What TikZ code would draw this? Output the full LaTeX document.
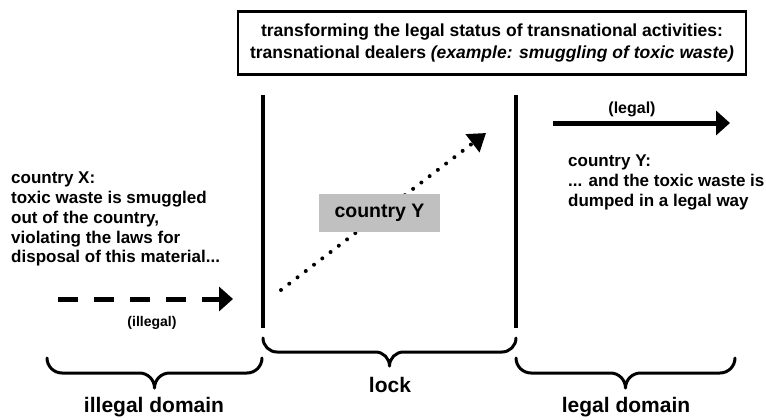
\documentclass[tikz,border=0pt]{standalone}
\usepackage{fontspec}
\setmainfont{Liberation Sans}
\usepackage{xcolor}
\usetikzlibrary{arrows.meta}
\definecolor{boxgray}{RGB}{192,192,192}

\begin{document}
\begin{tikzpicture}[x=1pt, y=-1pt,
    txt/.style={font=\bfseries\fontsize{17}{19.75}\selectfont, align=left, inner sep=0pt},
    dom/.style={font=\bfseries\fontsize{21}{24}\selectfont, inner sep=0pt},
    wall/.style={line width=4.5pt},
    flow/.style={line width=5pt, -{Triangle[length=14pt, width=24pt]}},
    curly/.style={line width=3pt, line cap=round, line join=round}]
    \useasboundingbox (0,0) rectangle (766,420);

    % title
    \node[draw, line width=2.5pt, minimum width=508pt, minimum height=63pt,
      align=center, font=\bfseries\fontsize{17.5}{22}\selectfont] (title) at (492,43)
      {transforming the legal status of transnational activities:\\
       transnational dealers {\itshape (example: smuggling of toxic waste)}};

    % the lock
    \coordinate (lockLtop) at (263,95);
    \coordinate (lockLbot) at (263,328);
    \coordinate (lockRtop) at (516,95);
    \coordinate (lockRbot) at (516,328);
    \draw[wall] (lockLtop) -- (lockLbot);
    \draw[wall] (lockRtop) -- (lockRbot);

    % country X
    \node[txt, anchor=north west] (txtX) at (11,172)
      {country X:\\toxic waste is smuggled\\out of the country,\\
       violating the laws for\\disposal of this material...};
    \coordinate (illA) at (58,299);
    \coordinate (illB) at (233,299);
    \draw[flow, dash pattern=on 20pt off 16pt] (illA) -- (illB);
    \node[inner sep=0pt, font=\bfseries\fontsize{14}{16}\selectfont] (lblIllegal) at (152,323) {(illegal)};

    % country Y inside the lock
    \coordinate (lockA) at (281,290);
    \coordinate (lockB) at (486,133);
    \draw[line width=4pt, line cap=round, dash pattern=on 0pt off 10.4pt,
      -{Triangle[length=17pt, width=22pt]}] (lockA) -- (lockB);
    \node[fill=boxgray, minimum width=121pt, minimum height=38pt, inner sep=0pt,
      font=\bfseries\fontsize{19.5}{22}\selectfont] (boxY) at (379.5,213) {country Y};

    % country Y
    \coordinate (legA) at (553,123);
    \coordinate (legB) at (730,123);
    \draw[flow] (legA) -- (legB);
    \node[inner sep=0pt, font=\bfseries\fontsize{16}{18}\selectfont] (lblLegal) at (632,109) {(legal)};
    \node[txt, anchor=north west] (txtY) at (568,155)
      {country Y:\\... and the toxic waste is\\dumped in a legal way};

    % braces
    \foreach \xa/\xb/\yt/\r in {47/262/358/15, 263/516/338/14, 516/735/358/15}{
      \pgfmathsetmacro\xm{(\xa+\xb)/2}
      \draw[curly] (\xa,\yt) .. controls (\xa,\yt+0.55*\r) and (\xa+0.45*\r,\yt+\r) .. (\xa+\r,\yt+\r)
        -- (\xm-\r,\yt+\r) .. controls (\xm-0.45*\r,\yt+\r) and (\xm,\yt+1.45*\r) .. (\xm,\yt+2*\r)
        .. controls (\xm,\yt+1.45*\r) and (\xm+0.45*\r,\yt+\r) .. (\xm+\r,\yt+\r)
        -- (\xb-\r,\yt+\r) .. controls (\xb-0.45*\r,\yt+\r) and (\xb,\yt+0.55*\r) .. (\xb,\yt);
    }
    \node[dom] (domIllegal) at (154,407) {illegal domain};
    \node[dom] (domLock) at (390,385) {lock};
    \node[dom] (domLegal) at (626,407) {legal domain};
\end{tikzpicture}
\end{document}
